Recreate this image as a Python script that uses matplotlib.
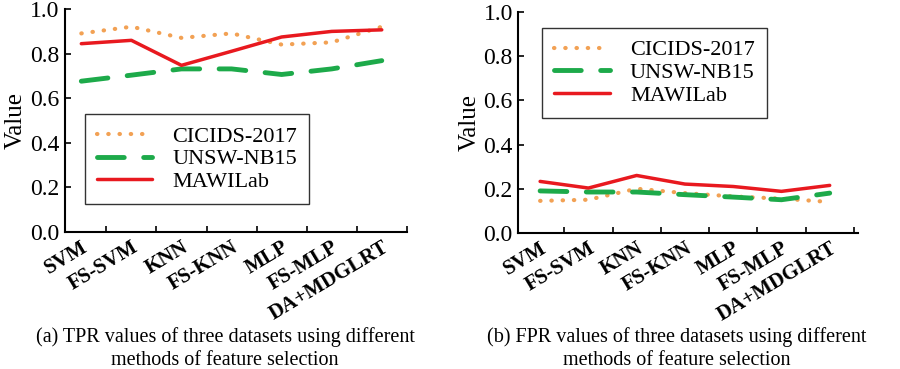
import numpy as np
import matplotlib
matplotlib.use("Agg")
import matplotlib.pyplot as plt

plt.rcParams['font.family'] = ['Liberation Serif', 'DejaVu Serif']

methods = ["SVM", "FS-SVM", "KNN", "FS-KNN", "MLP", "FS-MLP", "DA+MDGLRT"]
series = ["CICIDS-2017", "UNSW-NB15", "MAWILab"]

# TPR values (left panel)
tpr_cicids = [0.89, 0.92, 0.87, 0.89, 0.84, 0.85, 0.92]
tpr_unsw = [0.676, 0.703, 0.731, 0.731, 0.706, 0.731, 0.768]
tpr_mawi = [0.844, 0.859, 0.747, 0.81, 0.874, 0.899, 0.906]

# FPR values (right panel)
fpr_cicids = [0.145, 0.15, 0.20, 0.18, 0.165, 0.155, 0.14]
fpr_unsw = [0.19, 0.185, 0.185, 0.173, 0.162, 0.15, 0.18]
fpr_mawi = [0.233, 0.203, 0.26, 0.221, 0.21, 0.188, 0.215]

captions = [("(a) TPR values of three datasets using different", "methods of feature selection"),
            ("(b) FPR values of three datasets using different", "methods of feature selection")]

colors = ["#F2A154", "#1DAA4A", "#E8191F"]
styles = [(0, (0.1, 2.6)), (0, (5.5, 4)), "-"]
widths = [3.0, 3.5, 2.5]

fig = plt.figure(figsize=(9, 3.69), dpi=100)
ax1 = fig.add_axes([0.072, 0.371, 0.380, 0.605])
ax2 = fig.add_axes([0.576, 0.369, 0.377, 0.598])

x = np.arange(len(methods))

def draw(ax, data, xlim, anchor):
    for vals, name, c, ls, lw in zip(data, series, colors, styles, widths):
        ax.plot(x, vals, color=c, linestyle=ls, linewidth=lw, label=name,
                solid_capstyle='round', dash_capstyle='round')
    ax.set_xlim(*xlim)
    ax.set_ylim(0, 1.0)
    ax.set_yticks(np.arange(0, 1.01, 0.2))
    ax.set_yticklabels([f"{v:.1f}" for v in np.arange(0, 1.01, 0.2)], fontsize=17)
    ax.set_xticks(x)
    ax.set_xticklabels(methods, rotation=31, ha='right', rotation_mode='anchor',
                       fontsize=15, fontweight='bold')
    ax.set_xticks(np.arange(0.5, 6.6, 1.0), minor=True)
    ax.tick_params(axis='x', which='major', length=0, pad=4)
    ax.tick_params(axis='x', which='minor', direction='in', length=4, width=1.2)
    ax.tick_params(axis='y', direction='in', length=4, width=1.2, pad=4)
    ax.spines['top'].set_visible(False)
    ax.spines['right'].set_visible(False)
    for s in ['left', 'bottom']:
        ax.spines[s].set_linewidth(1.5)
    ax.set_ylabel("Value", fontsize=18, labelpad=2)
    leg = ax.legend(loc='upper left', bbox_to_anchor=anchor, fontsize=16,
                    frameon=True, fancybox=False, handlelength=2.5,
                    borderpad=0.55, labelspacing=0.1, handletextpad=0.9,
                    borderaxespad=0)
    leg.get_frame().set_edgecolor('black')
    leg.get_frame().set_linewidth(1.0)
    return leg

draw(ax1, [tpr_cicids, tpr_unsw, tpr_mawi], (-0.33, 6.37), (0.058, 0.53))
draw(ax2, [fpr_cicids, fpr_unsw, fpr_mawi], (-0.45, 6.58), (0.07, 0.93))

for cx, (l1, l2) in zip([0.25, 0.752], captions):
    fig.text(cx, 0.072, l1, ha='center', va='baseline', fontsize=14.5)
    fig.text(cx, 0.01, l2, ha='center', va='baseline', fontsize=14.5)

fig.savefig("out.png", dpi=100)
